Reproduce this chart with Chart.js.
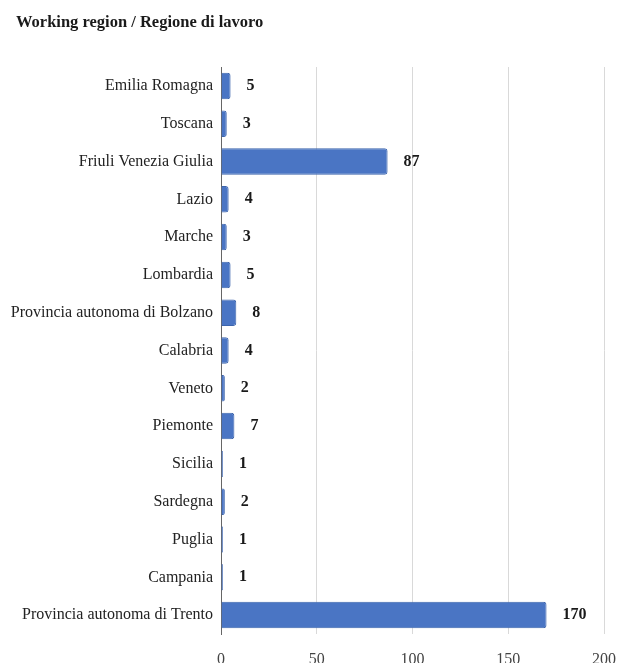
<!DOCTYPE html>
<html>
<head>
<meta charset="utf-8">
<script src="https://cdn.jsdelivr.net/npm/chart.js@4"></script>
<style>
  html, body { margin: 0; padding: 0; background: #fff; overflow: hidden; }
  #wrap { width: 618px; height: 663px; position: relative; }
</style>
</head>
<body>
<div id="wrap"><canvas id="chart"></canvas></div>
<script>
const titleText = 'Working region / Regione di lavoro';
const regions = [
  'Emilia Romagna', 'Toscana', 'Friuli Venezia Giulia', 'Lazio', 'Marche',
  'Lombardia', 'Provincia autonoma di Bolzano', 'Calabria', 'Veneto', 'Piemonte',
  'Sicilia', 'Sardegna', 'Puglia', 'Campania', 'Provincia autonoma di Trento'
];
const counts = [5, 3, 87, 4, 3, 5, 8, 4, 2, 7, 1, 2, 1, 1, 170];
const xTicks = [0, 50, 100, 150, 200];

const serif = "'Liberation Serif', 'DejaVu Serif', serif";

// title drawn at a fixed spot, top left
const titlePlugin = {
  id: 'topTitle',
  afterDraw(chart) {
    const ctx = chart.ctx;
    ctx.save();
    ctx.font = 'bold 16.5px ' + serif;
    ctx.fillStyle = '#1a1a1a';
    ctx.textBaseline = 'middle';
    ctx.textAlign = 'left';
    ctx.fillText(titleText, 16, 23);
    ctx.restore();
  }
};

// value labels to the right of each bar
const valuePlugin = {
  id: 'values',
  afterDatasetsDraw(chart) {
    const ctx = chart.ctx;
    const meta = chart.getDatasetMeta(0);
    ctx.save();
    ctx.font = 'bold 16px ' + serif;
    ctx.fillStyle = '#1a1a1a';
    ctx.textBaseline = 'middle';
    ctx.textAlign = 'left';
    meta.data.forEach((bar, i) => {
      ctx.fillText(counts[i], bar.x + 16, bar.y);
    });
    ctx.restore();
  }
};

new Chart(document.getElementById('chart'), {
  type: 'bar',
  data: {
    labels: regions,
    datasets: [{
      data: counts,
      backgroundColor: '#4a75c4',
      borderColor: '#3d65ad',
      borderWidth: 1,
      borderRadius: 3,
      borderSkipped: 'start',
      barPercentage: 0.7,
      categoryPercentage: 1
    }]
  },
  options: {
    indexAxis: 'y',
    responsive: true,
    maintainAspectRatio: false,
    animation: false,
    layout: { padding: { top: 67, right: 14, left: 0, bottom: 0 } },
    plugins: {
      legend: { display: false },
      tooltip: { enabled: false }
    },
    scales: {
      x: {
        min: 0,
        max: 200,
        afterBuildTicks(scale) {
          scale.ticks = xTicks.map(v => ({ value: v }));
        },
        afterFit(scale) {
          scale.height = 29;
          // tick padding would otherwise be added to the right margin
          scale.paddingLeft = 0;
          scale.paddingRight = 0;
        },
        grid: { color: '#d9d9d9', drawTicks: false },
        border: { display: false },
        ticks: {
          padding: 16,
          color: '#444',
          font: { family: serif, size: 16 }
        }
      },
      y: {
        afterFit(scale) { scale.width = 221; },
        grid: { display: false, drawTicks: false },
        border: { display: true, color: '#666', width: 1 },
        ticks: {
          padding: 8,
          color: '#222',
          font: { family: serif, size: 16 }
        }
      }
    }
  },
  plugins: [titlePlugin, valuePlugin]
});
</script>
</body>
</html>
